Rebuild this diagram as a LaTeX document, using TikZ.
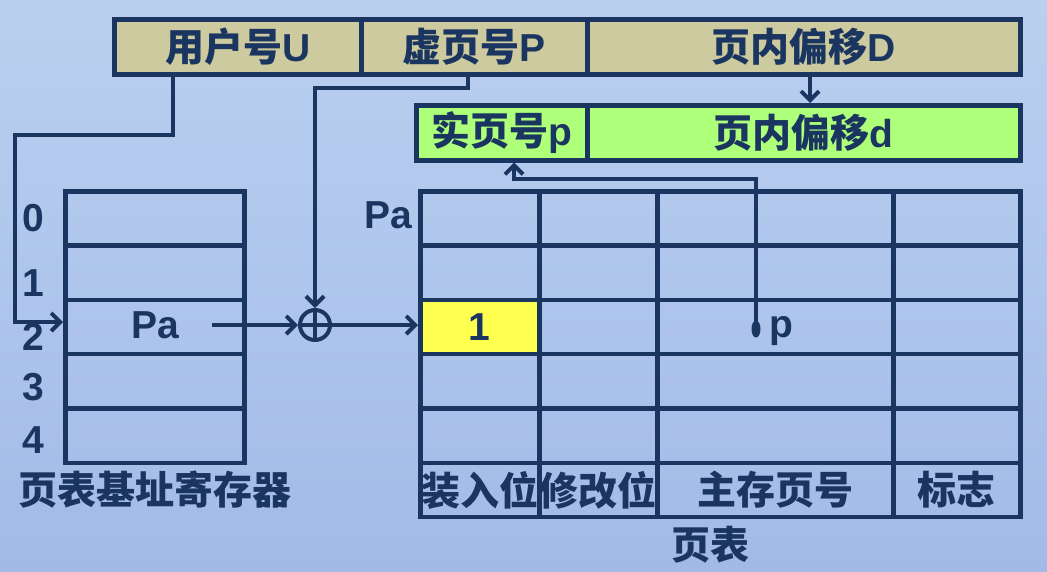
\documentclass[tikz,border=0pt]{standalone}
\usepackage{fontspec}
\setmainfont{Liberation Sans}
\newfontfamily\zh{Noto Sans CJK SC}
\usetikzlibrary{arrows.meta,calc}
\definecolor{ink}{HTML}{1A3560}
\definecolor{tan}{HTML}{CCCA9E}
\definecolor{grn}{HTML}{AEFF7A}
\definecolor{yel}{HTML}{FFFF4F}
\definecolor{bgt}{HTML}{BAD0F0}
\definecolor{bgm}{HTML}{C3D8F2}
\definecolor{bgb}{HTML}{A3BAE8}
\newcommand{\Z}[1]{{\zh #1}}
\begin{document}
\begin{tikzpicture}[x=1pt,y=-1pt,
  every node/.style={font=\fontsize{39}{41}\selectfont\bfseries, text=ink, inner sep=2pt},
  ln/.style={draw=ink, line width=4pt},
  arr/.style={ln, -{Straight Barb[length=9pt,width=18pt]}},
  cell/.style={draw=ink, line width=4.5pt, rectangle, inner sep=0pt, anchor=north west},
  c20/.style={fill=yel},
  field/.style={cell, minimum height=55},
]
\useasboundingbox (0,0) rectangle (1047,571);
\shade[top color=bgt, middle color=bgm, bottom color=bgb] (0,0) rectangle (1047,571);

% virtual address
\node[field, fill=tan, minimum width=247] (U) at (112,17) {\Z{用户号}U};
\node[field, fill=tan, minimum width=226] (P) at (359,17) {\Z{虚页号}P};
\node[field, fill=tan, minimum width=433] (D) at (585,17) {\Z{页内偏移}D};
% physical address
\node[field, fill=grn, minimum width=171] (pp) at (414,103) {\Z{实页号}p};
\node[field, fill=grn, minimum width=433] (dd) at (585,103) {\Z{页内偏移}d};

% page table base register
\foreach \r in {0,...,4} {
  \node[cell, minimum width=179, minimum height=54.33] (g\r) at (63,{189+54.33*\r}) {};
}
\foreach \r/\yy in {0/218,1/283,2/337,3/387,4/440} {
  \node (n\r) at (33,\yy) {\r};
}
\node (rpa) at (155,325) {Pa};
\node (regcap) at (155,490) {\Z{页表基址寄存器}};

% page table
\foreach \r in {0,...,5} {
  \foreach \c/\xa/\xb in {0/418/537,1/537/655,2/655/891,3/891/1018} {
    \node[cell, c\r\c/.try, minimum width={\xb-\xa}, minimum height=54.33] (t\r\c) at (\xa,{189+54.33*\r}) {};
  }
}
\node (one) at (t20.center) {1};
\node (h0) at (t50.center) {\Z{装入位}};
\node (h1) at (t51.center) {\Z{修改位}};
\node (h2) at (t52.center) {\Z{主存页号}};
\node (h3) at (t53.center) {\Z{标志}};
\node (tcap) at (710,545) {\Z{页表}};
\node (tpa) at (388,215) {Pa};
\node[anchor=base] (plab) at (781,337) {p};

% adder
\node[circle, draw=ink, line width=4pt, minimum size=30, inner sep=0pt] (add) at (315,325) {};
\draw[ln] (add.north) -- (add.south) (add.west) -- (add.east);

% connectors
\coordinate (xD) at (810,0);
\draw[arr] (D.south -| xD) -- (dd.north -| xD);

\coordinate (ua) at (173,135);
\coordinate (ub) at (15,322);
\draw[arr] (U.south -| ua) -- (ua) -| (ub) -- (ub -| g2.west);

\coordinate (pa) at (468,88);
\draw[arr] (P.south -| pa) -- (pa) -| (add.north);

\coordinate (pastart) at (212,325);
\draw[arr] (pastart) -- (add.west);
\draw[arr] (add.east) -- (add.east -| t20.west);

\coordinate (dot) at (756,329);
\fill[ink] (dot) ellipse [x radius=4.5, y radius=8.5];
\coordinate (pup) at (514,179);
\draw[arr] (dot) |- (pup) -- (pup |- pp.south);
\end{tikzpicture}
\end{document}
